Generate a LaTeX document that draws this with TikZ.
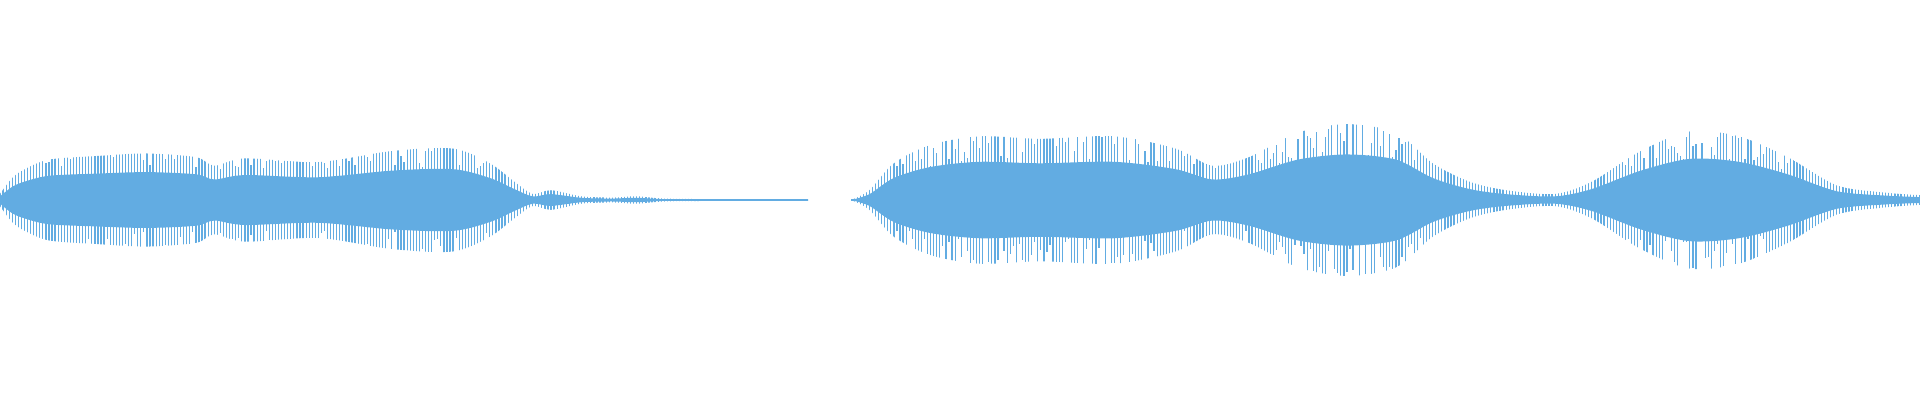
\documentclass[tikz,border=0pt]{standalone}
\definecolor{wave}{RGB}{98,172,226}
\begin{document}
\begin{tikzpicture}[x=0.012245cm,y=0.012245cm]
\useasboundingbox (0,-163.35) rectangle (1568,163.35);
\pgfmathsetseed{7}
\def\envA{(0,5) (10,18) (20,25) (40,33) (80,36) (120,38) (160,35) (175,28) (200,34) (260,31) (320,40) (370,42) (400,30) (420,15) (435,5) (450,8) (475,3) (500,2) (520,3) (550,1) (660,0.5)}
\def\envB{(695,0) (710,8) (730,30) (760,45) (800,52) (850,50) (910,52) (960,42) (990,28) (1020,35) (1060,55) (1100,62) (1140,55) (1170,30) (1200,15) (1230,8) (1270,5) (1300,15) (1340,40) (1380,56) (1420,52) (1460,35) (1500,12) (1540,6) (1568,4)}
\foreach \s in {1,-1}{
 \begin{scope}[yscale=\s]
  \begin{scope}
   \clip (0,0) -- plot[smooth,tension=0.5] coordinates {\envA} -- (660,0) -- cycle (695,0) -- plot[smooth,tension=0.5] coordinates {\envB} -- (1568,0) -- cycle;
   \foreach \i in {0,2.5,...,1568}{
     \pgfmathsetmacro{\h}{25+50*rnd}
     \draw[wave,line width=0.35pt] (\i,0) -- (\i,\h);}
  \end{scope}
  \begin{scope}[yscale=0.6]
   \fill[wave] (0,0) -- plot[smooth,tension=0.5] coordinates {\envA} -- (660,0) -- cycle;
   \fill[wave] (695,0) -- plot[smooth,tension=0.5] coordinates {\envB} -- (1568,0) -- cycle;
  \end{scope}
 \end{scope}}
\draw[wave,line width=0.4pt] (0,0) -- (660,0) (695,0) -- (1568,0);
\end{tikzpicture}
\end{document}
